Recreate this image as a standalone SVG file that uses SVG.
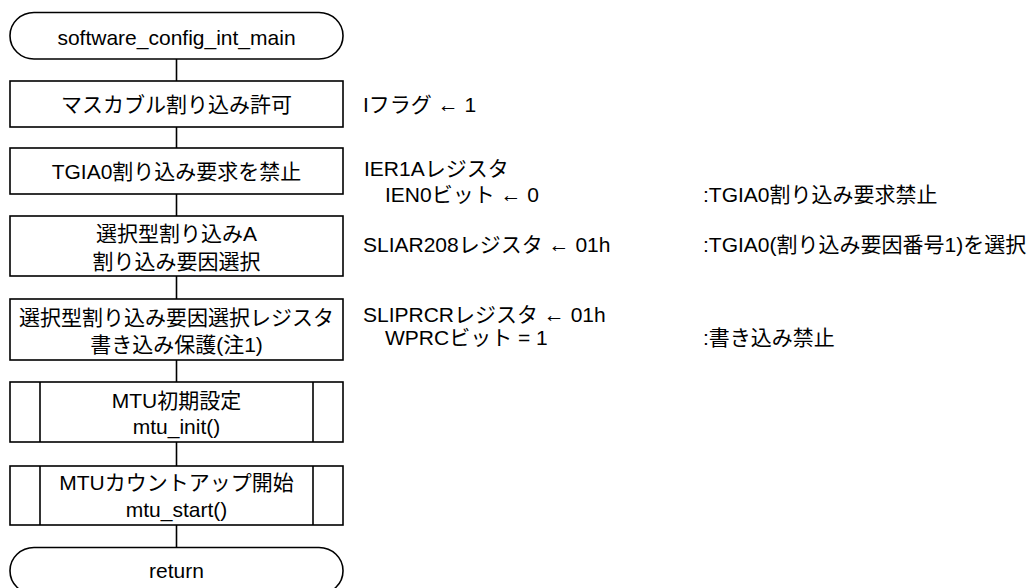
<svg xmlns="http://www.w3.org/2000/svg" width="1034" height="588" viewBox="0 0 1034 588">
<style>
  .shape { fill: #ffffff; stroke: #000000; stroke-width: 1.6; }
  .conn { stroke: #000000; stroke-width: 1.6; fill: none; }
  text { font-family: "Liberation Sans", "Noto Sans CJK JP", sans-serif; font-size: 21px; fill: #000000; }
  .c { text-anchor: middle; }
</style>
<rect width="1034" height="588" fill="#ffffff"/>
<g id="connectors">
  <line class="conn" x1="176.5" y1="59" x2="176.5" y2="81"/>
  <line class="conn" x1="176.5" y1="127" x2="176.5" y2="148"/>
  <line class="conn" x1="176.5" y1="194" x2="176.5" y2="216"/>
  <line class="conn" x1="176.5" y1="276" x2="176.5" y2="299"/>
  <line class="conn" x1="176.5" y1="360" x2="176.5" y2="382"/>
  <line class="conn" x1="176.5" y1="442" x2="176.5" y2="466"/>
  <line class="conn" x1="176.5" y1="525" x2="176.5" y2="547.5"/>
</g>
<g id="start">
  <rect class="shape" x="10" y="12.5" width="333" height="46.5" rx="24" ry="23"/>
  <text class="c" x="176.5" y="44.5">software_config_int_main</text>
</g>
<g id="step1">
  <rect class="shape" x="10" y="81" width="333" height="46"/>
  <text class="c" x="176.5" y="112">マスカブル割り込み許可</text>
</g>
<g id="step2">
  <rect class="shape" x="10" y="148" width="333" height="46"/>
  <text class="c" x="176.5" y="179">TGIA0割り込み要求を禁止</text>
</g>
<g id="step3">
  <rect class="shape" x="10" y="216" width="333" height="60"/>
  <text class="c" x="176.5" y="241">選択型割り込みA</text>
  <text class="c" x="176.5" y="269">割り込み要因選択</text>
</g>
<g id="step4">
  <rect class="shape" x="10" y="299" width="333" height="61"/>
  <text class="c" x="176.5" y="324.5">選択型割り込み要因選択レジスタ</text>
  <text class="c" x="176.5" y="352">書き込み保護(注1)</text>
</g>
<g id="step5">
  <rect class="shape" x="10" y="382" width="333" height="60"/>
  <line class="conn" x1="40" y1="382" x2="40" y2="442"/>
  <line class="conn" x1="313" y1="382" x2="313" y2="442"/>
  <text class="c" x="176.5" y="408">MTU初期設定</text>
  <text class="c" x="176.5" y="434">mtu_init()</text>
</g>
<g id="step6">
  <rect class="shape" x="10" y="466" width="333" height="59"/>
  <line class="conn" x1="40" y1="466" x2="40" y2="525"/>
  <line class="conn" x1="313" y1="466" x2="313" y2="525"/>
  <text class="c" x="176.5" y="490">MTUカウントアップ開始</text>
  <text class="c" x="176.5" y="516.5">mtu_start()</text>
</g>
<g id="end">
  <rect class="shape" x="10" y="547.5" width="333" height="46.5" rx="24" ry="23"/>
  <text class="c" x="176.5" y="578">return</text>
</g>
<g id="notes">
  <text x="363" y="111.5">Iフラグ ← 1</text>
  <text x="364" y="176">IER1Aレジスタ</text>
  <text x="385" y="202">IEN0ビット ← 0</text>
  <text x="703" y="202">:TGIA0割り込み要求禁止</text>
  <text x="363" y="251.5">SLIAR208レジスタ ← 01h</text>
  <text x="703" y="251.5">:TGIA0(割り込み要因番号1)を選択</text>
  <text x="363" y="321.5">SLIPRCRレジスタ ← 01h</text>
  <text x="385" y="345">WPRCビット = 1</text>
  <text x="703" y="345">:書き込み禁止</text>
</g>
</svg>
